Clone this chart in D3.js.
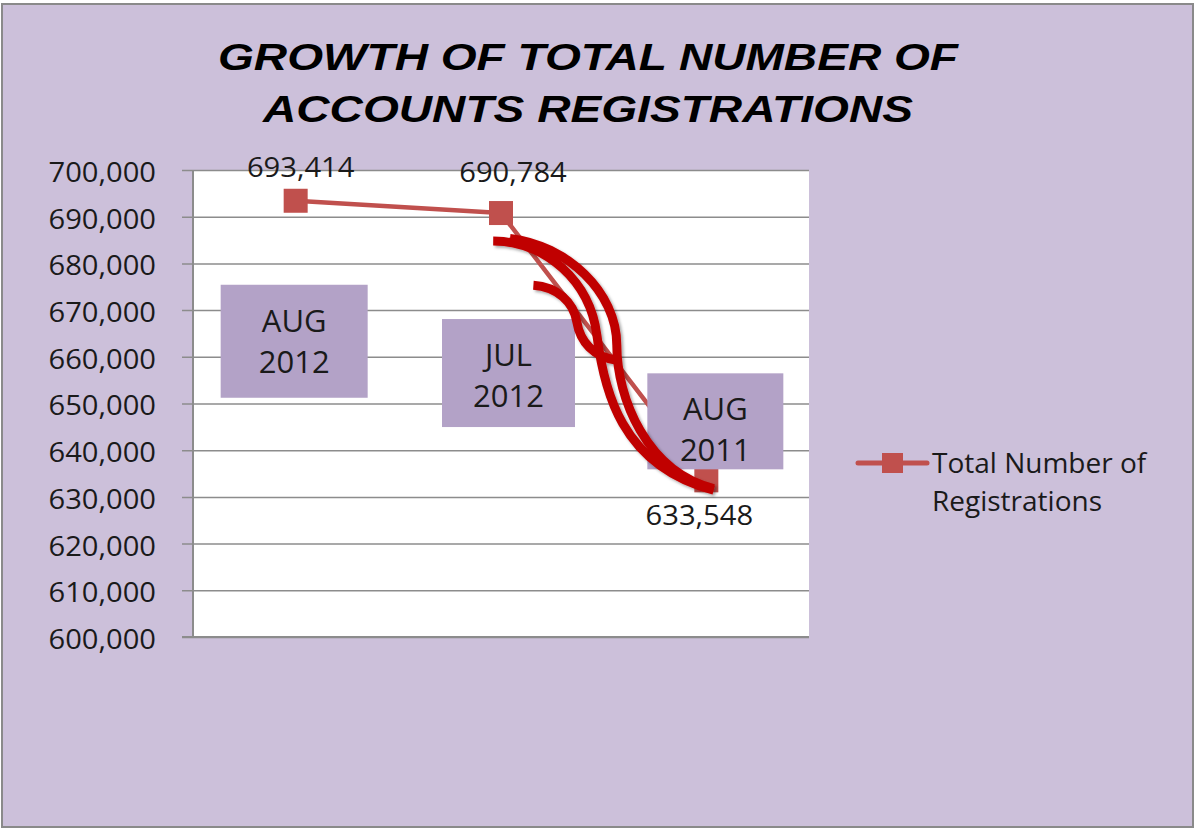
<!DOCTYPE html>
<html>
<head>
<meta charset="utf-8">
<script src="https://cdn.jsdelivr.net/npm/d3@7"></script>
<style>
  html, body { margin: 0; padding: 0; background: #ffffff; overflow: hidden; }
  svg { display: block; }
</style>
</head>
<body>
<div id="chart"></div>
<script>
  // data
  const categories = ["AUG 2012", "JUL 2012", "AUG 2011"];
  const registrations = [693414, 690784, 633548];
  const yTicks = d3.range(600000, 700001, 10000);
  const seriesName = "Total Number of Registrations";
  const titleLines = ["GROWTH OF TOTAL NUMBER OF", "ACCOUNTS REGISTRATIONS"];

  // layout of the hand placed bits (relative to each point)
  const labelOffsets = [[5, -24], [12, -31], [-7, 45]];
  const boxOffsets = [[-75, 84, 147, 113], [-59, 106, 133, 108], [-59, -107, 136, 96]];

  const w = 1198;
  const h = 829;
  const plot = { left: 193, right: 809, top: 170, bottom: 637 };
  const lineColor = "#c0504d";
  const gridColor = "#8c8c8c";

  const svg = d3.select("#chart").append("svg")
      .attr("width", w)
      .attr("height", h);

  const defs = svg.append("defs");
  const shadow = defs.append("filter").attr("id", "shadow")
      .attr("x", "-20%").attr("y", "-20%").attr("width", "140%").attr("height", "140%");
  shadow.append("feDropShadow")
      .attr("dx", 2).attr("dy", 2).attr("stdDeviation", 1.5)
      .attr("flood-color", "#000").attr("flood-opacity", 0.35);

  // chart area
  svg.append("rect")
      .attr("x", 2).attr("y", 4)
      .attr("width", 1191).attr("height", 823)
      .attr("fill", "#ccc0da")
      .attr("stroke", "#8a8a8a")
      .attr("stroke-width", 2);

  // title
  svg.selectAll(".title")
    .data(titleLines)
    .enter()
    .append("text")
      .attr("class", "title")
      .attr("x", 588)
      .attr("y", (d, i) => 70 + i * 52)
      .attr("text-anchor", "middle")
      .attr("textLength", (d, i) => i == 0 ? 740 : 650)
      .attr("lengthAdjust", "spacingAndGlyphs")
      .style("font-family", "'Liberation Sans', Arial, sans-serif")
      .style("font-weight", "bold")
      .style("font-style", "italic")
      .style("font-size", "37px")
      .attr("fill", "#000")
      .text(d => d);

  // scales
  const x = d3.scaleBand()
      .domain(categories)
      .range([plot.left, plot.right]);
  const y = d3.scaleLinear()
      .domain([600000, 700000])
      .range([plot.bottom, plot.top]);
  const cx = c => x(c) + x.bandwidth() / 2;

  // plot area
  svg.append("rect")
      .attr("x", plot.left).attr("y", plot.top)
      .attr("width", plot.right - plot.left)
      .attr("height", plot.bottom - plot.top)
      .attr("fill", "#ffffff");

  const yAxis = d3.axisLeft(y)
      .tickValues(yTicks)
      .tickSize(plot.right - plot.left + 11)
      .tickFormat(d3.format(","));

  const axisG = svg.append("g")
      .attr("transform", `translate(${plot.right},0)`)
      .call(yAxis);
  axisG.select(".domain").remove();
  axisG.selectAll(".tick line")
      .attr("stroke", gridColor)
      .attr("stroke-width", 1.5);
  axisG.selectAll(".tick text")
      .attr("x", 0)
      .attr("dy", 0)
      .attr("text-anchor", "end")
      .attr("dominant-baseline", "central")
      .attr("transform", `translate(${156 - plot.right},1) scale(1.1,1)`)
      .style("font-family", "'Open Sans', sans-serif")
      .style("font-size", "26.5px")
      .attr("fill", "#1a1a1a");

  // left and bottom axis lines
  svg.append("line")
      .attr("x1", plot.left).attr("x2", plot.left)
      .attr("y1", plot.top).attr("y2", plot.bottom)
      .attr("stroke", gridColor).attr("stroke-width", 2);
  svg.append("line")
      .attr("x1", plot.left - 11).attr("x2", plot.right)
      .attr("y1", plot.bottom).attr("y2", plot.bottom)
      .attr("stroke", gridColor).attr("stroke-width", 2);

  // series
  const points = categories.map((c, i) => ({ cat: c, value: registrations[i], px: cx(c), py: y(registrations[i]) }));

  const line = d3.line().x(d => d.px).y(d => d.py);
  svg.append("path")
      .datum(points)
      .attr("d", line)
      .attr("fill", "none")
      .attr("stroke", lineColor)
      .attr("stroke-width", 4.5)
      .attr("stroke-linejoin", "round");

  svg.selectAll(".marker")
    .data(points)
    .enter()
    .append("rect")
      .attr("class", "marker")
      .attr("x", d => d.px - 12)
      .attr("y", d => d.py - 12)
      .attr("width", 24)
      .attr("height", 24)
      .attr("fill", lineColor);

  // data labels
  svg.selectAll(".dlabel")
    .data(points)
    .enter()
    .append("text")
      .attr("class", "dlabel")
      .attr("text-anchor", "middle")
      .attr("transform", (d, i) => `translate(${d.px + labelOffsets[i][0]},${d.py + labelOffsets[i][1]}) scale(1.08,1)`)
      .style("font-family", "'Open Sans', sans-serif")
      .style("font-size", "27px")
      .attr("fill", "#1a1a1a")
      .text(d => d3.format(",")(d.value));

  // month boxes
  const boxes = svg.selectAll(".note")
    .data(points)
    .enter()
    .append("g")
      .attr("class", "note")
      .attr("transform", (d, i) => `translate(${d.px + boxOffsets[i][0]},${d.py + boxOffsets[i][1]})`);

  boxes.append("rect")
      .attr("width", (d, i) => boxOffsets[i][2])
      .attr("height", (d, i) => boxOffsets[i][3])
      .attr("fill", "#b3a2c7");

  boxes.each(function(d, i) {
    let parts = d.cat.split(" ");
    d3.select(this).selectAll("text")
      .data(parts)
      .enter()
      .append("text")
        .attr("x", boxOffsets[i][2] / 2)
        .attr("y", (p, j) => 47 + j * 41)
        .attr("text-anchor", "middle")
        .style("font-family", "'Open Sans', sans-serif")
        .style("font-size", "31px")
        .attr("fill", "#1a1a1a")
        .text(p => p);
  });

  // red hand drawn strokes between JUL 2012 and AUG 2011
  const p2 = points[1];
  const p3 = points[2];
  const at = (fx, fy) => [p2.px + fx * (p3.px - p2.px), p2.py + fy * (p3.py - p2.py)];
  const pt = a => a[0].toFixed(1) + "," + a[1].toFixed(1);
  const strokes = [
    "M" + pt(at(-0.038, 0.105)) + " C" + pt(at(0.223, 0.107)) + " " + pt(at(0.434, 0.257)) + " " + pt(at(0.467, 0.457))
      + " S" + pt(at(0.580, 0.944)) + " " + pt(at(1.036, 1.037)),
    "M" + pt(at(0.044, 0.095)) + " C" + pt(at(0.320, 0.120)) + " " + pt(at(0.564, 0.295)) + " " + pt(at(0.564, 0.494))
      + " S" + pt(at(0.711, 0.969)) + " " + pt(at(1.036, 1.031)),
    "M" + pt(at(0.158, 0.270)) + " C" + pt(at(0.272, 0.276)) + " " + pt(at(0.353, 0.332)) + " " + pt(at(0.369, 0.407))
      + " C" + pt(at(0.385, 0.482)) + " " + pt(at(0.450, 0.538)) + " " + pt(at(0.564, 0.551))
  ];

  svg.append("g")
      .attr("filter", "url(#shadow)")
    .selectAll("path")
    .data(strokes)
    .enter()
    .append("path")
      .attr("d", d => d)
      .attr("fill", "none")
      .attr("stroke", "#c00000")
      .attr("stroke-width", 9)
      .attr("stroke-linecap", "butt");

  // legend
  const legend = svg.append("g").attr("transform", "translate(858,463)");
  legend.append("line")
      .attr("x1", 0).attr("x2", 69)
      .attr("stroke", lineColor)
      .attr("stroke-width", 5)
      .attr("stroke-linecap", "round");
  legend.append("rect")
      .attr("x", 24).attr("y", -10)
      .attr("width", 21).attr("height", 20)
      .attr("fill", lineColor);
  legend.selectAll("text")
    .data(["Total Number of", "Registrations"])
    .enter()
    .append("text")
      .attr("x", 74)
      .attr("y", (d, i) => 10 + i * 38)
      .style("font-family", "'Open Sans', sans-serif")
      .style("font-size", "28px")
      .attr("fill", "#1a1a1a")
      .text(d => d);
</script>
</body>
</html>
